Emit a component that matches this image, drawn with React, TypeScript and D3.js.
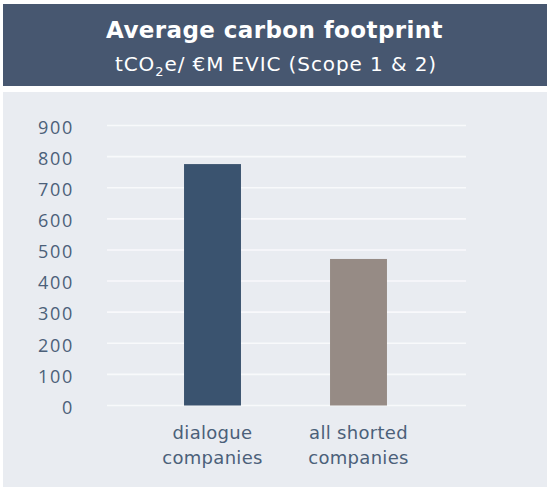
import React from "react";
import * as d3 from "d3";

const categories: string[][] = [
  ["dialogue", "companies"],
  ["all shorted", "companies"],
];
const values: number[] = [776, 471];
const barColors: string[] = ["#3a536f", "#968b85"];
const yTicks: number[] = [0, 100, 200, 300, 400, 500, 600, 700, 800, 900];
const title = "Average carbon footprint";

const W = 547;
const H = 488;

export default function App() {
  const keys = categories.map((c) => c.join(" "));
  const x = d3.scaleBand<string>().domain(keys).range([139.5, 431.5]).padding(0);
  const y = d3.scaleLinear().domain([0, 900]).range([405.5, 125.5]);
  const barW = x.bandwidth() * 0.39;
  const textColor = "#4b6079";

  return (
    <svg
      width={W}
      height={H}
      style={{ position: "absolute", left: 0, top: 0 }}
      fontFamily="'DejaVu Sans', Verdana, sans-serif"
    >
      <rect x={0} y={0} width={W} height={H} fill="#ffffff" />
      {/* header band */}
      <rect x={3} y={4} width={W - 3} height={82} fill="#475770" />
      <text
        x={274.5}
        y={37.5}
        textAnchor="middle"
        fill="#ffffff"
        fontWeight="bold"
        fontSize={23}
        letterSpacing={0.4}
      >
        {title}
      </text>
      <text x={276} y={70.7} textAnchor="middle" fill="#ffffff" fontSize={20} letterSpacing={0.9}>
        tCO
        <tspan fontSize={13} dy={5}>2</tspan>
        <tspan dy={-5}>e/ €M EVIC (Scope 1 &amp; 2)</tspan>
      </text>

      {/* chart panel */}
      <rect x={3} y={92} width={W - 3} height={395} fill="#e9ecf1" />

      {yTicks.map((t) => (
        <g key={t}>
          <line x1={107} x2={466} y1={y(t)} y2={y(t)} stroke="#f8f9fb" strokeWidth={1.6} />
          <text
            x={74.2}
            y={y(t) + 8.3}
            textAnchor="end"
            fill={textColor}
            fontSize={18}
            letterSpacing={1.8}
            fontFamily="'Open Sans', sans-serif"
          >
            {t}
          </text>
        </g>
      ))}

      {keys.map((k, i) => {
        const cx = (x(k) as number) + x.bandwidth() / 2;
        return (
          <g key={k}>
            <rect
              x={cx - barW / 2}
              y={y(values[i])}
              width={barW}
              height={y(0) - y(values[i])}
              fill={barColors[i]}
            />
            {categories[i].map((line, j) => (
              <text
                key={j}
                x={cx}
                y={439.3 + j * 24.7}
                textAnchor="middle"
                fill={textColor}
                fontSize={18}
                letterSpacing={0.3}
              >
                {line}
              </text>
            ))}
          </g>
        );
      })}
    </svg>
  );
}
